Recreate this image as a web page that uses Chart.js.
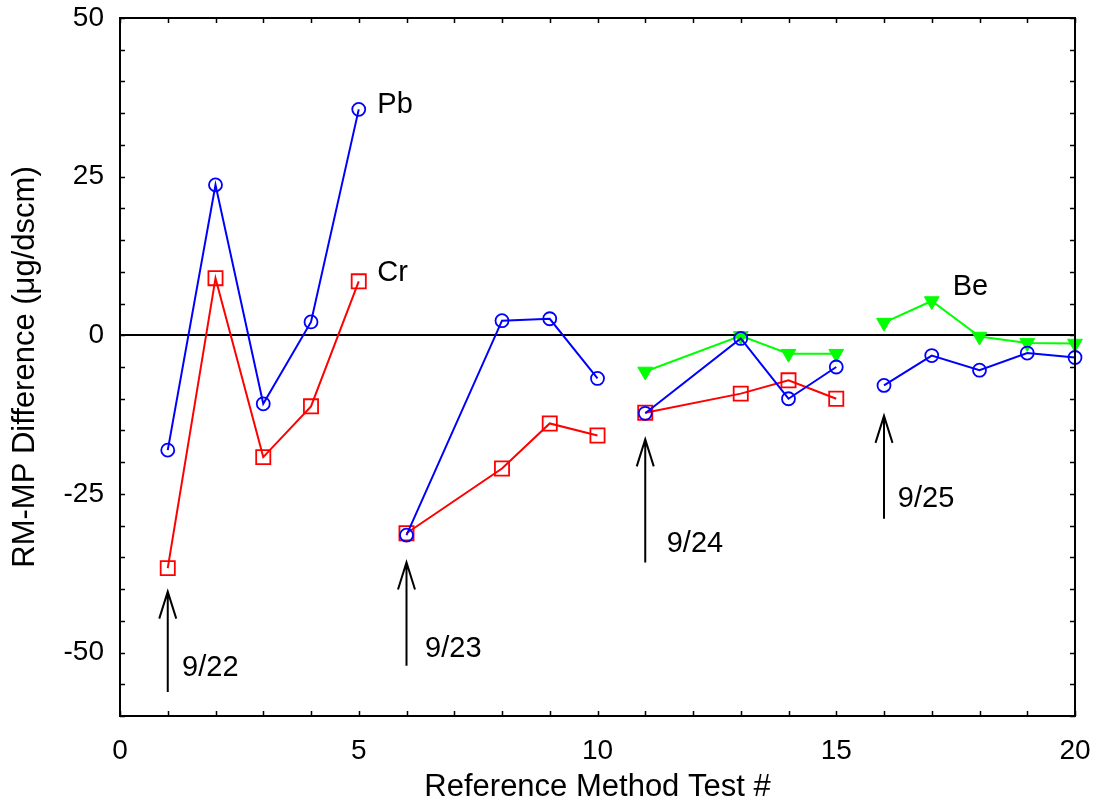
<!DOCTYPE html>
<html>
<head>
<meta charset="utf-8">
<script src="https://cdn.jsdelivr.net/npm/chart.js@4.4.0/dist/chart.umd.min.js"></script>
<style>
html,body{margin:0;padding:0;background:#ffffff;}
#wrap{width:1096px;height:807px;position:relative;}
</style>
</head>
<body>
<div id="wrap"><canvas id="c"></canvas></div>
<script>
// ---- data ----
const testNumbers = [1,2,3,4,5,6,7,8,9,10,11,12,13,14,15,16,17,18,19,20];
const testDates   = ['9/22','9/22','9/22','9/22','9/22','9/23','9/23','9/23','9/23','9/23',
                     '9/24','9/24','9/24','9/24','9/24','9/25','9/25','9/25','9/25','9/25'];
const pbValues = [-18.1, 23.7, -10.8, 2.1, 35.6, -31.5, null, 2.3, 2.6, -6.8,
                  -12.3, null, -0.5, -10.0, -5.0, -7.9, -3.2, -5.5, -2.8, -3.5];
const crValues = [-36.7, 9.0, -19.2, -11.2, 8.5, -31.2, null, -21.0, -13.9, -15.8,
                  -12.2, null, -9.2, -7.1, -10.0, null, null, null, null, null];
const beValues = [null, null, null, null, null, null, null, null, null, null,
                  -5.7, null, -0.1, -2.9, -2.9, 2.0, 5.4, -0.2, -1.2, -1.3];
const xLabelTicks = [0, 5, 10, 15, 20];
const yLabelTicks = [-50, -25, 0, 25, 50];

// series name labels (data coordinates)
const seriesNames  = ['Pb', 'Cr', 'Be'];
const seriesNameX  = [5.39, 5.39, 17.44];
const seriesNameY  = [36.5, 10.0, 7.7];

// date markers (arrows) in data coordinates
const markerDates  = ['9/22', '9/23', '9/24', '9/25'];
const markerTest   = [1, 6, 11, 16];
const markerTail   = [-56.2, -52.1, -35.8, -28.9];
const markerHead   = [-40.4, -35.8, -16.4, -12.7];
const markerLabelX = [1.30, 6.39, 11.45, 16.29];
const markerLabelY = [-52.3, -49.3, -32.8, -25.7];

// ---- build ----
const FONT = "'Liberation Sans', Arial, Helvetica, sans-serif";
function toPoints(vals){ return testNumbers.map((t,i)=>({x:t, y:vals[i]})); }
function sameDaySegment(color){
  return ctx => (testDates[ctx.p0DataIndex] === testDates[ctx.p1DataIndex]) ? color : 'rgba(0,0,0,0)';
}

const boxPlugin = {
  id: 'boxPlugin',
  beforeDatasetsDraw(chart){
    const {ctx, chartArea:a, scales:{y}} = chart;
    const y0 = Math.round(y.getPixelForValue(0));
    ctx.save();
    ctx.strokeStyle = '#000';
    ctx.lineWidth = 2;
    ctx.beginPath();
    ctx.moveTo(a.left, y0); ctx.lineTo(a.right, y0);
    ctx.stroke();
    ctx.restore();
  },
  afterDatasetsDraw(chart){
    const {ctx, chartArea:a, scales:{x, y}} = chart;
    ctx.save();
    // frame
    ctx.strokeStyle = '#000';
    ctx.lineWidth = 2;
    ctx.strokeRect(a.left, a.top, a.right - a.left, a.bottom - a.top);
    // inward ticks
    const tl = 5;
    ctx.lineWidth = 1.5;
    ctx.beginPath();
    x.ticks.forEach(t => {
      const px = Math.round(x.getPixelForValue(t.value)) + 0.5;
      ctx.moveTo(px, a.bottom); ctx.lineTo(px, a.bottom - tl);
      ctx.moveTo(px, a.top); ctx.lineTo(px, a.top + tl);
    });
    y.ticks.forEach(t => {
      const py = Math.round(y.getPixelForValue(t.value)) + 0.5;
      ctx.moveTo(a.left, py); ctx.lineTo(a.left + tl, py);
      ctx.moveTo(a.right, py); ctx.lineTo(a.right - tl, py);
    });
    ctx.stroke();

    // series name labels
    ctx.fillStyle = '#000';
    ctx.font = '29px ' + FONT;
    ctx.textAlign = 'left';
    ctx.textBaseline = 'middle';
    seriesNames.forEach((n,i) => {
      ctx.fillText(n, x.getPixelForValue(seriesNameX[i]), y.getPixelForValue(seriesNameY[i]) + 1);
    });

    // arrows with date labels
    ctx.strokeStyle = '#000';
    ctx.lineWidth = 2;
    markerDates.forEach((d,i) => {
      const px = x.getPixelForValue(markerTest[i]);
      const pt = y.getPixelForValue(markerTail[i]);
      const ph = y.getPixelForValue(markerHead[i]);
      ctx.beginPath();
      ctx.moveTo(px, pt); ctx.lineTo(px, ph);
      ctx.moveTo(px - 8.5, ph + 27); ctx.lineTo(px, ph); ctx.lineTo(px + 8.5, ph + 27);
      ctx.stroke();
      ctx.fillText(d, x.getPixelForValue(markerLabelX[i]), y.getPixelForValue(markerLabelY[i]) + 1);
    });
    ctx.restore();
  }
};

new Chart(document.getElementById('c'), {
  type: 'line',
  data: {
    datasets: [
      {
        label: 'Pb', data: toPoints(pbValues), order: 0,
        borderColor: '#0000ff', backgroundColor: 'rgba(0,0,0,0)', borderWidth: 2,
        pointStyle: 'circle', pointRadius: 6.5, pointBorderWidth: 1.8,
        pointBorderColor: '#0000ff', pointBackgroundColor: 'rgba(0,0,0,0)',
        spanGaps: true, tension: 0, clip: false,
        segment: { borderColor: sameDaySegment('#0000ff') }
      },
      {
        label: 'Cr', data: toPoints(crValues), order: 1,
        borderColor: '#ff0000', backgroundColor: 'rgba(0,0,0,0)', borderWidth: 2,
        pointStyle: 'rect', pointRadius: 10, pointBorderWidth: 1.8,
        pointBorderColor: '#ff0000', pointBackgroundColor: 'rgba(0,0,0,0)',
        spanGaps: true, tension: 0, clip: false,
        segment: { borderColor: sameDaySegment('#ff0000') }
      },
      {
        label: 'Be', data: toPoints(beValues), order: 2,
        borderColor: '#00ff00', backgroundColor: '#00ff00', borderWidth: 2,
        pointStyle: 'triangle', pointRotation: 180, pointRadius: 8.5, pointBorderWidth: 1,
        pointBorderColor: '#00ff00', pointBackgroundColor: '#00ff00',
        spanGaps: true, tension: 0, clip: false,
        segment: { borderColor: sameDaySegment('#00ff00') }
      }
    ]
  },
  options: {
    responsive: true,
    maintainAspectRatio: false,
    animation: false,
    devicePixelRatio: 1,
    events: [],
    layout: { padding: { top: 18, right: 21, left: 0, bottom: 0 } },
    plugins: { legend: { display: false }, tooltip: { enabled: false } },
    scales: {
      x: {
        type: 'linear', min: 0, max: 20,
        grid: { display: false },
        border: { display: false },
        ticks: {
          stepSize: 1, autoSkip: false, maxRotation: 0, padding: 10,
          color: '#000', font: { family: FONT, size: 28 },
          callback: v => xLabelTicks.includes(v) ? String(v) : ''
        },
        title: {
          display: true, text: 'Reference Method Test #', color: '#000',
          font: { family: FONT, size: 31 }, padding: { top: 0, bottom: 1 }
        },
        afterFit(s){ s.height = 91; s.paddingLeft = 0; s.paddingRight = 0; }
      },
      y: {
        type: 'linear', min: -60, max: 50,
        grid: { display: false },
        border: { display: false },
        ticks: {
          stepSize: 5, autoSkip: false, padding: 8,
          color: '#000', font: { family: FONT, size: 28 },
          callback: v => yLabelTicks.includes(v) ? String(v) : ''
        },
        title: {
          display: true, text: 'RM-MP Difference (μg/dscm)', color: '#000',
          font: { family: FONT, size: 31 }, padding: { top: 7, bottom: 0 }
        },
        afterFit(s){ s.width = 120; s.paddingTop = 0; s.paddingBottom = 0; }
      }
    }
  },
  plugins: [boxPlugin]
});
</script>
</body>
</html>
